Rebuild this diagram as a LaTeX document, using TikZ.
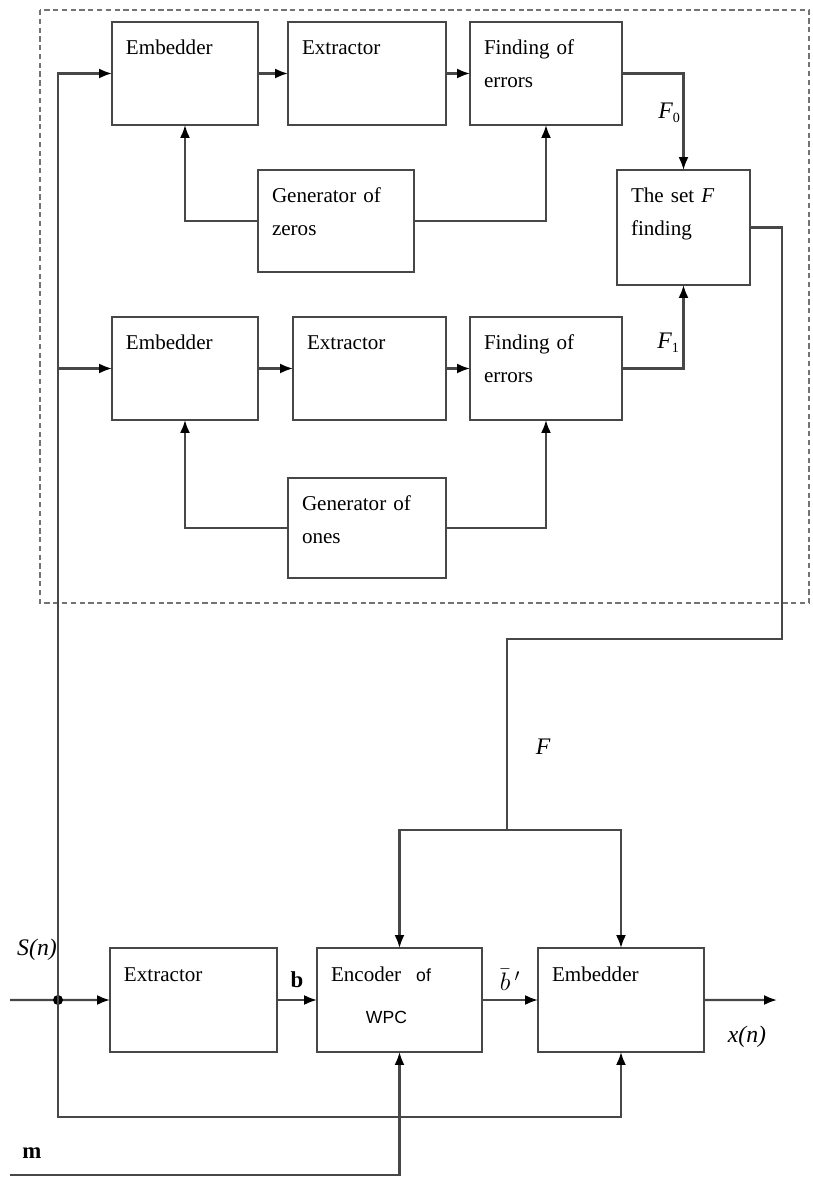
\documentclass[tikz,border=0pt]{standalone}
\usepackage{fontspec}
\setmainfont{Liberation Serif}
\newfontfamily\wpcfont{Liberation Sans}
\usetikzlibrary{calc,arrows,arrows.meta,positioning}

\begin{document}
\begin{tikzpicture}[x=0.02cm,y=-0.02cm,
    blk/.style 2 args={draw=black!72,line width=1.2pt,anchor=north west,
      inner xsep=0.28cm,inner ysep=0pt,outer sep=0pt,align=left,
      text height=0.66cm,text width=#1,text depth=#2,
      font=\fontsize{12}{18.7}\selectfont},
    wire/.style={draw=black!72,line width=1.2pt},
    conn/.style={wire,-{Latex[length=0.26cm,width=0.2cm,fill=black,color=black]}},
    lbl/.style={inner sep=0pt,font=\fontsize{13.5}{16}\selectfont\itshape}]

    \useasboundingbox (0,0) rectangle (812,1179);

    % searching part
    \draw[black!55,line width=0.8pt,dash pattern=on 3pt off 2pt] (40,10) rectangle (809,603);

    \node[blk={2.36cm}{1.40cm}] (emb0) at (112,22) {Embedder};
    \node[blk={2.60cm}{1.40cm}] (ext0) at (288,22) {Extractor};
    \node[blk={2.48cm}{1.40cm}] (err0) at (470,22) {Finding of\\errors};
    \node[blk={2.56cm}{1.38cm}] (gen0) at (258,170) {Generator of\\zeros};
    \node[blk={2.10cm}{1.64cm}] (setF) at (617,170) {The set \textit{F}\\finding};

    \node[blk={2.36cm}{1.40cm}] (emb1) at (112,317) {Embedder};
    \node[blk={2.50cm}{1.40cm}] (ext1) at (293,317) {Extractor};
    \node[blk={2.48cm}{1.40cm}] (err1) at (470,317) {Finding of\\errors};
    \node[blk={2.60cm}{1.34cm}] (gen1) at (288,478) {Generator of\\ones};

    % embedding part
    \node[blk={2.78cm}{1.42cm}] (extB) at (110,948) {Extractor};
    \node[blk={2.74cm}{1.42cm}] (enc) at (317,948) {Encoder\hspace{0.3cm}{\wpcfont\fontsize{10}{12}\selectfont of}\\[0.2cm]\hspace{0.7cm}{\wpcfont\fontsize{10}{12}\selectfont WPC}};
    \node[blk={2.76cm}{1.42cm}] (embB) at (538,948) {Embedder};

    \coordinate (in) at (10,1000);
    \coordinate (dot) at (58,1000);
    \coordinate (low) at (58,1117);
    \coordinate (m) at (10,1175);
    \coordinate (out) at (777,1000);
    \coordinate (back) at (782,639);
    \coordinate (split) at (507,830);

    \draw[conn] (in) -- (extB.west);
    \fill[black] (dot) circle (0.1cm);
    \draw[conn] (dot) |- (emb0.west);
    \draw[conn] (dot) |- (emb1.west);
    \draw[conn] (dot) -- (low) -| (embB.south);

    \draw[conn] (emb0) -- (ext0);
    \draw[conn] (ext0) -- (err0);
    \draw[conn] (gen0.west) -| (emb0.south);
    \draw[conn] (gen0.east) -| (err0.south);
    \draw[conn] (err0.east) -| (setF.north);

    \draw[conn] (emb1) -- (ext1);
    \draw[conn] (ext1) -- (err1);
    \draw[conn] (gen1.west) -| (emb1.south);
    \draw[conn] (gen1.east) -| (err1.south);
    \draw[conn] (err1.east) -| (setF.south);

    \draw[wire] (setF.east) -| (back) -| (split);
    \draw[conn] (split) -| (enc.north);
    \draw[conn] (split) -| (embB.north);

    \draw[conn] (extB) -- (enc);
    \draw[conn] (enc) -- (embB);
    \draw[conn] (embB.east) -- (out);
    \draw[conn] (m) -| (enc.south);

    \node[lbl,anchor=east] (lF0) at (681,113) {F\textsubscript{\upshape\fontsize{8}{9}\selectfont 0}};
    \node[lbl,anchor=east] (lF1) at (680,343) {F\textsubscript{\upshape\fontsize{8}{9}\selectfont 1}};
    \node[lbl] (lF) at (543,747) {F};
    \node[lbl] (lS) at (37,950) {S(n)};
    \node[lbl] (lx) at (747,1037) {x(n)};
    \node[inner sep=0pt,font=\fontsize{13}{15}\selectfont\bfseries] (lb) at (297,980) {b};
    \node[inner sep=0pt,font=\fontsize{13}{15}\selectfont\bfseries] (lm) at (32,1153) {m};
    \node[inner sep=0pt,font=\fontsize{14}{16}\selectfont] (lb2) at (510,980) {$\bar{b}\,'$};
\end{tikzpicture}
\end{document}
